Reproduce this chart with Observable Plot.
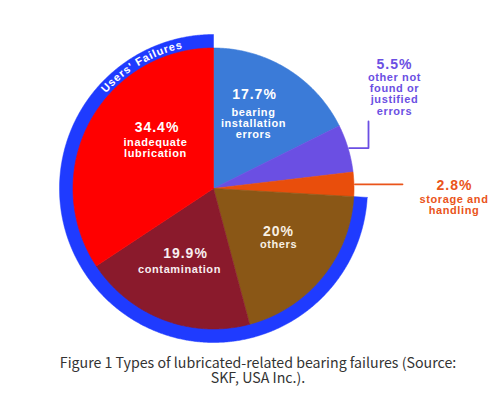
<!DOCTYPE html>
<html>
<head>
<meta charset="utf-8">
<script src="https://cdn.jsdelivr.net/npm/d3@7"></script>
<script src="https://cdn.jsdelivr.net/npm/@observablehq/plot@0.6"></script>
<style>
  html, body { margin: 0; padding: 0; background: #fff; }
  #wrap { position: relative; width: 500px; height: 395px; overflow: hidden; }
  #chart { position: absolute; left: 0; top: 0; }
  .cap { position: absolute; left: 16px; width: 484px; text-align: center;
    font-family: "Noto Sans CJK SC", "Noto Sans", sans-serif; font-size: 14.2px; line-height: 14px;
    color: #333; white-space: nowrap; }
</style>
</head>
<body>
<div id="wrap">
  <div id="chart"></div>
  <div class="cap" style="top:355px">Figure 1 Types of lubricated-related bearing failures (Source:</div>
  <div class="cap" style="top:369.5px">SKF, USA Inc.).</div>
</div>
<script>
// ---- data ----
const categories = ["bearing installation errors", "other not found or justified errors", "storage and handling", "others", "contamination", "inadequate lubrication"];
const values = [17.7, 5.5, 2.8, 20, 19.9, 34.4];
const pctLabels = ["17.7%", "5.5%", "2.8%", "20%", "19.9%", "34.4%"];
const nameLabels = ["bearing\ninstallation\nerrors", "other not\nfound or\njustified\nerrors", "storage and\nhandling", "others", "contamination", "inadequate\nlubrication"];
const colors = ["#3b7bd8", "#6b4fe3", "#e94e0c", "#8a5716", "#8a1a2c", "#ff0000"];
const usersFailures = ["others", "contamination", "inadequate lubrication"];
const ringTitle = "Users' Failures";

// ---- layout ----
const CX = 213, CY = 188, R = 140.5, R2 = 154;
const ringColor = "#1f3bff";
const labelLayout = {
  "bearing installation errors":          {px: 254,   py: 94,    nx: 253, ny: 112, anchor: "middle", color: "#ffffff"},
  "other not found or justified errors":  {px: 394,   py: 64,    nx: 394, ny: 77,  anchor: "end",    color: "#6b4fe3", conn: {x: 368, top: 121}},
  "storage and handling":                 {px: 454,   py: 185.5, nx: 453.5, ny: 199, anchor: "end",  color: "#ea541a", conn: {x: 402}},
  "others":                               {px: 278,   py: 231,   nx: 278, ny: 244, anchor: "middle", color: "#f8f0e4"},
  "contamination":                        {px: 185,   py: 253,   nx: 179, ny: 269, anchor: "middle", color: "#f8eef0"},
  "inadequate lubrication":               {px: 156.5, py: 127.5, nx: 155, ny: 142, anchor: "middle", color: "#ffffff"}
};
const LH = 11.2; // line spacing px for names
const ringTextMid = -30.5 * Math.PI / 180, ringTextR = 147.2;

// ---- geometry from data ----
const total = d3.sum(values);
let cum = 0;
const slices = categories.map((c, i) => {
  const a0 = cum / total * 2 * Math.PI;
  cum += values[i];
  const a1 = cum / total * 2 * Math.PI;
  return {c, i, a0, a1, mid: (a0 + a1) / 2, color: colors[i]};
});
const px = (r, a) => CX + r * Math.sin(a);
const py = (r, a) => CY - r * Math.cos(a);
function arcPts(a0, a1, r) {
  const n = Math.max(2, Math.ceil(Math.abs(a1 - a0) / (0.4 * Math.PI / 180)));
  return d3.range(n + 1).map(k => { const a = a0 + (a1 - a0) * k / n; return [px(r, a), py(r, a)]; });
}
const slicePts = [];
for (const s of slices) {
  const pts = [[CX, CY], ...arcPts(s.a0, s.a1, R), [CX, CY]];
  pts.forEach(([x, y], k) => slicePts.push({key: s.c, x, y, k, color: s.color}));
}
const ringSlices = slices.filter(s => usersFailures.includes(s.c));
const ra0 = d3.min(ringSlices, s => s.a0), ra1 = d3.max(ringSlices, s => s.a1);
const ringPts = [...arcPts(ra0, ra1, R2), ...arcPts(ra1, ra0, R - 0.5)];
ringPts.push(ringPts[0]);
const ringRows = ringPts.map(([x, y], k) => ({x, y, k}));

// labels
const pctRows = slices.map(s => ({...labelLayout[s.c], text: pctLabels[s.i]}));
const nameRows = slices.map(s => {
  const L = labelLayout[s.c];
  const n = nameLabels[s.i].split("\n").length;
  return {...L, text: nameLabels[s.i], cy: L.ny + (n - 1) * LH / 2};
});
// connectors
const connRows = [];
slices.forEach(s => {
  const L = labelLayout[s.c];
  if (!L.conn) return;
  const e = [px(R + 1, s.mid), py(R + 1, s.mid)];
  const pts = [e, [L.conn.x, e[1]]];
  if (L.conn.top != null) pts.push([L.conn.x, L.conn.top]);
  pts.forEach(([x, y], k) => connRows.push({key: s.c, x, y, k, color: L.color}));
});
// ring title characters along arc
const cv = document.createElement("canvas").getContext("2d");
cv.font = "bold 11px 'Liberation Sans'";
const spacing = 1.0;
const chars = Array.from(ringTitle);
const widths = chars.map(ch => cv.measureText(ch).width + spacing);
const totalW = d3.sum(widths) - spacing;
let acc = ringTextMid * ringTextR - totalW / 2;
const charRows = chars.map((ch, k) => {
  const s = acc + (widths[k] - spacing) / 2;
  acc += widths[k];
  const a = s / ringTextR;
  return {ch, x: px(ringTextR, a), y: py(ringTextR, a), rot: a * 180 / Math.PI};
});

const chart = Plot.plot({
  width: 500, height: 350, margin: 0,
  x: {domain: [0, 500], range: [0, 500], axis: null},
  y: {domain: [0, 350], range: [0, 350], axis: null},
  color: {type: "identity"},
  style: {background: "transparent"},
  marks: [
    Plot.line(ringRows, {x: "x", y: "y", fill: ringColor, stroke: ringColor, strokeWidth: 0.5, curve: "linear"}),
    Plot.line(slicePts, {x: "x", y: "y", z: "key", fill: "color", stroke: "color", strokeWidth: 0.6, curve: "linear"}),
    Plot.line(connRows, {x: "x", y: "y", z: "key", stroke: "color", strokeWidth: 1.8, curve: "linear"}),
    Plot.text(charRows, {x: "x", y: "y", text: "ch", rotate: "rot", fill: "#ffffff", fontFamily: "Liberation Sans, Arial, sans-serif", fontWeight: "bold", fontSize: 11, textAnchor: "middle", lineAnchor: "middle"}),
    Plot.text(pctRows, {x: "px", y: "py", text: "text", fill: "color", textAnchor: d => d.anchor, fontFamily: "Liberation Sans, Arial, sans-serif", fontWeight: "bold", fontSize: 14, lineAnchor: "middle"}),
    Plot.text(nameRows, {x: "nx", y: "cy", text: "text", fill: "color", textAnchor: d => d.anchor, fontFamily: "Liberation Sans, Arial, sans-serif", fontWeight: "bold", fontSize: 11, lineHeight: LH / 11, lineAnchor: "middle"})
  ]
});
// letter spacing applied to the label text marks (2nd and 3rd text marks)
const textGroups = d3.select(chart).selectAll('g[aria-label="text"]').nodes();
if (textGroups[1]) d3.select(textGroups[1]).selectAll("text").style("letter-spacing", "1px");
if (textGroups[2]) d3.select(textGroups[2]).selectAll("text, tspan").style("letter-spacing", "0.6px");
document.getElementById("chart").appendChild(chart);
</script>
</body>
</html>
